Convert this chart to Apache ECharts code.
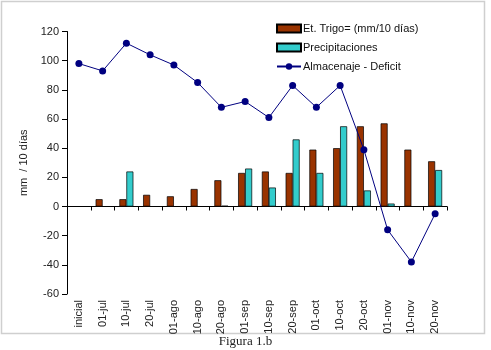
<!DOCTYPE html>
<html>
<head>
<meta charset="utf-8">
<script src="https://cdn.jsdelivr.net/npm/echarts@6/dist/echarts.min.js"></script>
<style>
  html, body { margin: 0; padding: 0; background: #fff; }
  #chart { width: 491px; height: 350px; }
</style>
</head>
<body>
<div id="chart"></div>
<script>
// datos
const categorias = ['inicial', '01-jul', '10-jul', '20-jul', '01-ago', '10-ago', '20-ago', '01-sep',
  '10-sep', '20-sep', '01-oct', '10-oct', '20-oct', '01-nov', '10-nov', '20-nov']
const etTrigo = [0, 5, 5, 8, 7, 12, 18, 23, 24, 23, 39, 40, 55, 57, 39, 31]
const precipitaciones = [0, 0, 24, 0, 0, 0, 0.5, 26, 13, 46, 23, 55, 11, 2, 0, 25]
const almacenaje = [98, 93, 112, 104, 97, 85, 68, 72, 61, 83, 68, 83, 39, -16, -38, -5]

const chart = echarts.init(document.getElementById('chart'))

const font = 'Arial, "Liberation Sans", sans-serif'

const option = {
  animation: false,
  textStyle: { fontFamily: font },
  grid: { left: 67, right: 44, top: 31.5, bottom: 56 },
  legend: {
    orient: 'vertical',
    left: 271,
    top: 18,
    itemWidth: 24,
    itemHeight: 8,
    itemGap: 8,
    textStyle: { fontSize: 11, color: '#111', fontFamily: font, padding: [0, 0, 0, -3] },
    data: [
      { name: 'Et. Trigo= (mm/10 días)', icon: 'rect' },
      { name: 'Precipitaciones', icon: 'rect' },
      { name: 'Almacenaje - Deficit' }
    ]
  },
  xAxis: {
    type: 'category',
    data: categorias,
    axisLine: { onZero: true, lineStyle: { color: '#000', width: 1 } },
    axisTick: { show: true, inside: false, length: 4, lineStyle: { color: '#000' } },
    axisLabel: { rotate: 90, fontSize: 11, color: '#222', margin: 6 },
    splitLine: { show: false }
  },
  yAxis: {
    type: 'value',
    min: -60,
    max: 120,
    interval: 20,
    name: 'mm  / 10 días',
    nameLocation: 'middle',
    nameGap: 31,
    nameTextStyle: { fontSize: 11, color: '#222' },
    axisLine: { show: true, lineStyle: { color: '#000' } },
    axisTick: { show: true, length: 5, lineStyle: { color: '#000' } },
    axisLabel: { fontSize: 11, color: '#222', margin: 8 },
    splitLine: { show: false }
  },
  series: [
    {
      name: 'Et. Trigo= (mm/10 días)',
      type: 'bar',
      data: etTrigo,
      barWidth: 7,
      barGap: '0%',
      itemStyle: { color: '#993300', borderColor: '#000', borderWidth: 0.7 }
    },
    {
      name: 'Precipitaciones',
      type: 'bar',
      data: precipitaciones,
      barWidth: 7,
      barGap: '0%',
      itemStyle: { color: '#33CCCC', borderColor: '#000', borderWidth: 0.7 }
    },
    {
      name: 'Almacenaje - Deficit',
      type: 'line',
      data: almacenaje,
      symbol: 'circle',
      symbolSize: 7,
      lineStyle: { color: '#000080', width: 1 },
      itemStyle: { color: '#000080' }
    }
  ],
  graphic: [
    {
      type: 'rect',
      shape: { x: 1.5, y: 1.5, width: 483, height: 332 },
      style: { fill: 'none', stroke: '#cfcfcf', lineWidth: 1.5 },
      silent: true
    },
    {
      type: 'text',
      left: 'center',
      top: 335,
      style: { text: 'Figura 1.b', font: '13px "Liberation Serif", "DejaVu Serif", serif', fill: '#222' }
    }
  ]
}

chart.setOption(option)
</script>
</body>
</html>
